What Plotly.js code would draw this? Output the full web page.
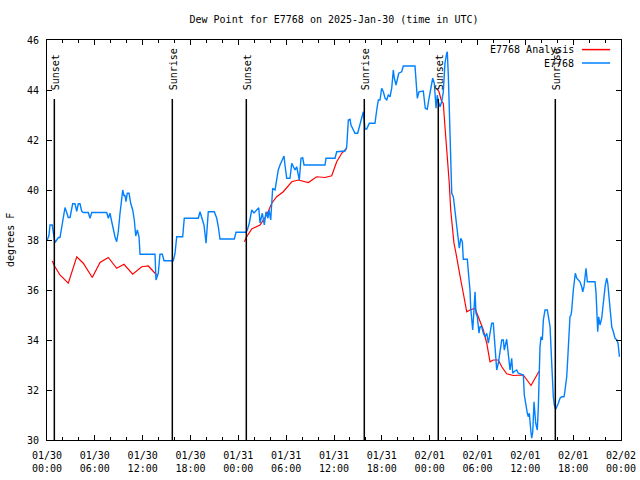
<!DOCTYPE html>
<html>
<head>
<meta charset="utf-8">
<script src="https://cdn.plot.ly/plotly-3.0.1.min.js"></script>
<style>html,body{margin:0;padding:0;background:#fff;}#chart{width:640px;height:480px;}</style>
</head>
<body>
<div id="chart"></div>
<script>
// Time is in hours since 2025-01-30 00:00 UTC
var obsHours = [0.04,0.25,0.38,0.66,0.79,1.00,1.22,1.42,1.63,1.84,2.04,2.26,2.47,2.67,2.89,3.10,3.22,3.51,3.73,3.93,4.14,4.35,4.55,5.18,5.39,5.61,7.49,7.69,7.90,8.12,8.32,8.53,8.74,8.94,9.16,9.37,9.50,9.66,9.78,9.91,10.07,10.29,10.50,10.75,10.95,11.13,11.33,11.54,11.67,13.55,13.67,13.96,14.17,14.46,14.68,15.84,16.06,16.27,17.02,17.22,18.98,19.19,19.41,19.69,19.95,20.23,20.99,21.29,21.49,21.70,23.49,23.71,24.96,25.13,25.38,25.68,25.96,26.38,26.56,26.72,27.01,27.26,27.47,27.72,27.85,28.06,28.19,28.31,28.60,28.81,29.01,29.23,29.44,29.73,29.85,30.07,30.48,30.70,31.11,31.32,31.65,31.86,32.07,32.24,34.87,35.00,36.13,36.34,37.38,37.59,37.80,38.01,38.13,38.42,38.63,38.97,39.26,39.48,39.68,39.89,40.10,40.43,41.14,41.36,41.56,41.77,41.98,42.19,42.40,42.61,42.81,43.03,43.24,43.44,43.57,43.78,43.94,44.12,44.49,44.69,46.16,46.29,46.45,46.66,47.20,47.45,47.70,47.92,48.17,48.38,48.58,48.80,48.96,49.08,49.30,49.51,49.71,49.92,50.14,50.21,50.34,50.46,50.64,50.77,50.97,51.18,51.40,51.60,51.72,51.90,52.10,52.22,52.72,52.94,53.06,53.15,53.27,53.40,53.56,53.69,53.81,53.98,54.19,54.32,54.53,54.73,54.94,55.16,55.36,55.57,55.78,55.98,56.11,56.23,56.41,56.61,56.82,57.04,57.24,57.36,57.66,57.87,58.08,58.29,58.42,58.58,58.92,59.12,59.75,59.87,60.09,60.25,60.38,60.50,60.68,60.80,60.93,61.09,61.30,61.50,61.63,61.84,61.97,62.13,62.26,62.47,62.76,62.89,63.10,63.31,63.44,63.51,63.64,63.81,64.14,64.35,64.56,64.85,64.98,65.19,65.31,65.48,65.60,65.73,65.82,66.02,66.15,66.27,66.45,66.65,66.86,67.07,67.20,67.36,67.49,67.61,67.78,68.74,68.87,68.95,69.08,69.20,69.37,69.58,69.71,69.87,70.03,70.21,70.34,70.54,70.63,70.84,71.04,71.25,71.47,71.63,71.80];
var obsDewF = [38.0,38.2,38.6,38.6,38.3,37.9,38.0,38.1,38.1,38.5,38.9,39.3,39.1,38.9,38.9,39.2,39.45,39.45,39.15,39.45,39.45,39.15,39.1,39.1,38.87,39.1,39.1,38.87,39.07,38.73,38.4,38.13,37.93,38.33,39.07,39.6,40.0,39.76,39.8,39.53,39.87,39.87,39.47,39.2,38.8,38.16,38.4,38.13,37.43,37.43,36.4,36.67,37.43,37.43,37.17,37.17,37.47,38.13,38.13,38.87,38.87,39.13,38.87,38.6,37.87,39.13,39.13,38.87,38.53,38.04,38.04,38.31,38.31,38.4,38.68,39.2,39.08,39.2,39.29,38.68,39.07,38.6,39.13,38.87,39.2,38.8,39.47,40.07,40.0,40.4,40.8,41.0,41.13,41.36,41.0,40.47,40.47,41.07,40.8,40.93,40.4,41.27,41.29,41.0,41.0,41.27,41.27,41.53,41.56,41.71,42.8,42.83,42.6,42.4,42.27,42.27,42.6,42.93,43.13,42.44,42.44,42.67,42.67,43.2,43.6,43.6,44.07,43.93,43.67,43.6,43.8,43.73,44.07,44.8,44.47,44.2,44.4,44.67,44.73,44.96,44.96,44.27,43.67,43.93,43.96,43.27,43.23,43.67,44.2,44.47,44.27,43.27,43.8,43.53,43.33,43.53,43.93,45.07,45.47,45.53,44.6,42.93,41.6,39.87,39.73,39.2,38.67,38.13,37.67,38.07,37.93,37.23,37.23,36.4,36.0,35.27,34.93,34.4,35.2,35.93,35.07,34.93,34.27,34.53,34.53,34.27,34.13,34.27,33.87,34.27,34.67,34.67,34.0,33.47,32.8,33.07,33.6,34.0,34.0,33.6,34.03,33.33,32.8,33.27,32.67,32.73,32.8,32.67,32.6,31.8,31.33,31.07,30.93,31.07,30.4,30.07,30.33,31.53,30.67,30.4,31.33,33.73,34.13,34.0,34.8,35.2,35.2,34.93,34.53,33.07,32.13,31.73,31.4,31.23,31.47,31.67,31.73,31.73,32.0,32.53,33.2,34.27,34.93,35.0,35.2,36.0,36.4,36.67,36.47,36.4,36.33,36.13,35.93,36.13,36.67,36.87,36.33,36.33,35.87,34.93,34.33,34.93,34.6,34.87,35.4,35.73,36.2,36.47,36.27,35.6,35.2,34.53,34.33,34.07,34.0,33.87,33.33];

var anaHours = [0.66,1.00,1.63,2.67,3.73,4.55,5.68,6.65,7.69,8.74,9.66,10.75,11.88,12.71,13.55,13.76,null,24.75,25.05,25.68,26.72,27.56,28.19,28.81,29.64,30.70,31.52,32.78,33.83,34.87,35.71,36.34,36.97,37.59,null,48.88,49.17,49.51,49.71,49.92,50.05,50.21,50.46,50.64,50.90,51.05,51.30,51.60,51.90,52.22,52.65,53.06,53.69,54.10,54.73,55.16,55.57,55.98,56.61,57.04,57.66,58.49,59.75,60.71,61.72];
var anaDewF = [37.16,36.93,36.6,36.27,37.33,37.07,36.5,37.1,37.3,36.87,37.03,36.63,36.93,36.96,36.67,36.6,null,37.93,38.13,38.44,38.6,39.0,39.47,39.73,39.93,40.33,40.4,40.3,40.53,40.5,40.57,41.13,41.47,41.67,null,44.07,43.93,43.53,43.47,42.53,42.0,41.33,40.27,39.2,38.4,37.87,37.47,37.0,36.4,35.87,35.13,35.2,35.27,34.93,34.4,33.87,33.13,33.2,33.2,32.93,32.65,32.58,32.6,32.18,32.75];

var sunLabels = ['Sunset','Sunrise','Sunset','Sunrise','Sunset','Sunrise'];
var sunHours = [0.92,15.72,25.0,39.8,49.08,63.76];

var tickHours = [0,6,12,18,24,30,36,42,48,54,60,66,72];
var tickLabels = ['01/30<br>00:00','01/30<br>06:00','01/30<br>12:00','01/30<br>18:00','01/31<br>00:00','01/31<br>06:00','01/31<br>12:00','01/31<br>18:00','02/01<br>00:00','02/01<br>06:00','02/01<br>12:00','02/01<br>18:00','02/02<br>00:00'];

var seriesNames = ['E7768 Analysis','E7768'];
var seriesColors = ['#ff0000','#0080ff'];

var FONT = {family:'DejaVu Sans Mono, Liberation Mono, monospace', size:10, color:'#000'};

var traces = [
  {x: anaHours, y: anaDewF, mode:'lines', line:{color:seriesColors[0], width:1.2}, connectgaps:false, showlegend:false, hoverinfo:'skip'},
  {x: obsHours, y: obsDewF, mode:'lines', line:{color:seriesColors[1], width:1.4}, showlegend:false, hoverinfo:'skip'}
];

var shapes = [];
var annotations = [];
for (var i = 0; i < sunHours.length; i++) {
  shapes.push({type:'line', xref:'x', yref:'paper', x0:sunHours[i], x1:sunHours[i], y0:0, y1:0.8525, line:{color:'#000', width:1.5}});
  annotations.push({xref:'x', yref:'paper', x:sunHours[i]+0.1, y:0.872, text:sunLabels[i], textangle:-90, showarrow:false, xanchor:'center', yanchor:'bottom', font:FONT, borderpad:0});
}
// legend (gnuplot style: text then sample)
var legY = [0.976, 0.9425];
for (var j = 0; j < seriesNames.length; j++) {
  annotations.push({xref:'paper', yref:'paper', x:0.9199, y:legY[j], text:seriesNames[j], showarrow:false, xanchor:'right', yanchor:'middle', font:FONT, borderpad:0});
  shapes.push({type:'line', xref:'paper', yref:'paper', x0:0.932, x1:0.981, y0:legY[j], y1:legY[j], line:{color:seriesColors[j], width:1.5}});
}
annotations.push({xref:'paper', yref:'paper', x:-0.0645, y:0.5, text:'degrees F', textangle:-90, showarrow:false, xanchor:'center', yanchor:'middle', font:FONT});

var layout = {
  width:640, height:480,
  margin:{l:47, r:19, t:40, b:40, pad:0},
  paper_bgcolor:'#fff', plot_bgcolor:'#fff',
  font: FONT,
  title:{text:'Dew Point for E7768 on 2025-Jan-30 (time in UTC)', x:0.5, xref:'paper', xanchor:'center', y:0.96, yref:'container', yanchor:'middle', font:FONT},
  xaxis:{range:[0,72], tickmode:'array', tickvals:tickHours, ticktext:tickLabels, ticks:'inside', ticklen:5, tickcolor:'#000', tickwidth:1,
    showline:true, linecolor:'#000', linewidth:1, mirror:'ticks', showgrid:false, zeroline:false, tickfont:FONT, ticklabelstandoff:6,
    minor:{tickmode:'linear', tick0:0, dtick:2, ticks:'inside', ticklen:3, tickcolor:'#000', showgrid:false}},
  yaxis:{range:[30,46], tickmode:'linear', tick0:30, dtick:2, ticks:'inside', ticklen:5, tickcolor:'#000', tickwidth:1,
    showline:true, linecolor:'#000', linewidth:1, mirror:'ticks', showgrid:false, zeroline:false, tickfont:FONT, ticklabelstandoff:5},
  shapes: shapes,
  annotations: annotations,
  showlegend:false
};

Plotly.newPlot('chart', traces, layout, {staticPlot:true, displayModeBar:false});
</script>
</body>
</html>
